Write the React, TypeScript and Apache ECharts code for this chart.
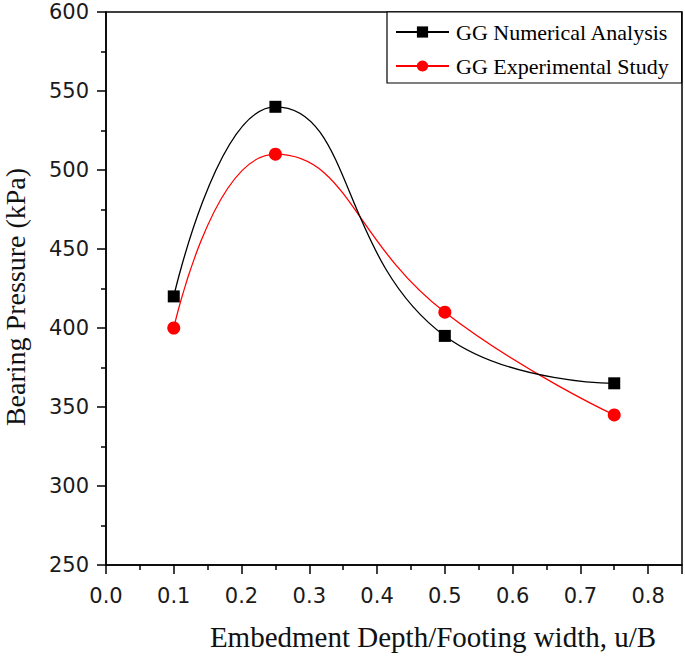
import React, { useEffect, useRef } from "react";
import * as echarts from "echarts";

const ratios = [0.1, 0.25, 0.5, 0.75];
const numerical = [420, 540, 395, 365];
const experimental = [400, 510, 410, 345];
const seriesNames = ["GG Numerical Analysis", "GG Experimental Study"];
const xTitle = "Embedment Depth/Footing width, u/B";
const yTitle = "Bearing Pressure (kPa)";

export default function App() {
  const ref = useRef<HTMLDivElement>(null);
  useEffect(() => {
    const chart = echarts.init(ref.current!, null, { renderer: "svg" });
    const tickFont = { fontFamily: "DejaVu Sans", fontSize: 21, color: "#1a1a1a" };
    chart.setOption({
      animation: false,
      backgroundColor: "#fff",
      grid: {
        left: 106,
        top: 12,
        right: 2,
        bottom: 92,
        show: true,
        borderColor: "#000",
        borderWidth: 1.5,
      },
      xAxis: {
        type: "value",
        min: 0,
        max: 0.85,
        interval: 0.1,
        axisLine: { show: true, onZero: false, lineStyle: { color: "#000", width: 1.5 } },
        axisTick: { show: true, inside: false, length: 9, lineStyle: { color: "#000", width: 1.5 } },
        minorTick: { show: true, splitNumber: 2, length: 5, lineStyle: { color: "#000", width: 1.5 } },
        splitLine: { show: false },
        axisLabel: {
          ...tickFont,
          margin: 20,
          formatter: (v: number) => (v > 0.8001 ? "" : v.toFixed(1)),
        },
      },
      yAxis: {
        type: "value",
        min: 250,
        max: 600,
        interval: 50,
        axisLine: { show: true, onZero: false, lineStyle: { color: "#000", width: 1.5 } },
        axisTick: { show: true, inside: false, length: 9, lineStyle: { color: "#000", width: 1.5 } },
        minorTick: { show: true, splitNumber: 2, length: 5, lineStyle: { color: "#000", width: 1.5 } },
        splitLine: { show: false },
        axisLabel: { ...tickFont, margin: 17 },
      },
      legend: {
        orient: "vertical",
        left: 387,
        top: 12,
        padding: [9, 13, 6, 8],
        itemGap: 12,
        itemWidth: 53,
        itemHeight: 14,
        borderColor: "#000",
        borderWidth: 1.2,
        backgroundColor: "#fff",
        textStyle: { fontFamily: "Liberation Serif", fontSize: 22, color: "#000", padding: [0, 0, 0, 2] },
        data: seriesNames,
      },
      series: [
        {
          name: seriesNames[0],
          type: "line",
          data: ratios.map((r, i) => [r, numerical[i]]),
          smooth: 0.5,
          symbol: "rect",
          symbolSize: 12,
          color: "#000",
          lineStyle: { color: "#000", width: 1.3 },
          itemStyle: { color: "#000" },
          z: 3,
        },
        {
          name: seriesNames[1],
          type: "line",
          data: ratios.map((r, i) => [r, experimental[i]]),
          smooth: 0.5,
          symbol: "circle",
          symbolSize: 13,
          color: "#ff0000",
          lineStyle: { color: "#ff0000", width: 1.3 },
          itemStyle: { color: "#ff0000" },
          z: 2,
        },
      ],
      graphic: [
        {
          type: "text",
          x: 433,
          y: 637,
          style: {
            text: xTitle,
            fontFamily: "Liberation Serif",
            fontSize: 29,
            fill: "#111",
            align: "center",
            verticalAlign: "middle",
          },
        },
        {
          type: "text",
          x: 15,
          y: 297,
          rotation: Math.PI / 2,
          style: {
            text: yTitle,
            fontFamily: "Liberation Serif",
            fontSize: 28,
            fill: "#111",
            align: "center",
            verticalAlign: "middle",
          },
        },
      ],
    });
    return () => chart.dispose();
  }, []);
  return <div ref={ref} style={{ width: 685, height: 657, position: "absolute", left: 0, top: 0 }} />;
}
